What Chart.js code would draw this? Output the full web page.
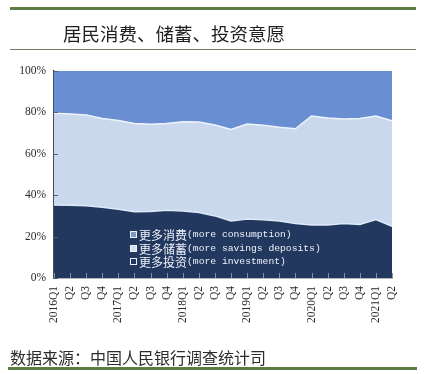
<!DOCTYPE html>
<html>
<head>
<meta charset="utf-8">
<script src="https://cdn.jsdelivr.net/npm/chart.js@4/dist/chart.umd.min.js"></script>
<style>
  html, body { margin:0; padding:0; background:#fff; }
  body { width:424px; height:374px; position:relative; overflow:hidden; }
  #c { position:absolute; left:0; top:0; }
  .bar { position:absolute; background:#5d7c43; }
  .title { position:absolute; left:63px; top:20px; font-family:"Noto Sans CJK SC", sans-serif; font-size:18.5px; color:#1f1f1f; white-space:nowrap; line-height:26px; }
  .src { position:absolute; left:10px; top:346px; font-family:"Noto Sans CJK SC", sans-serif; font-size:16px; color:#2b2b2b; white-space:nowrap; line-height:22px; }
  .legend { position:absolute; left:130px; top:228px; color:#eef2fa; }
  .legend .row { height:13.5px; display:flex; align-items:center; white-space:nowrap; }
  .legend .sw { width:5px; height:5px; border:1px solid #eef2fa; margin-right:2px; }
  .legend .zh { font-family:"Noto Sans CJK SC", sans-serif; font-size:12px; line-height:13px; }
  .legend .en { font-family:"Liberation Mono", monospace; font-size:9.7px; line-height:13px; }
</style>
</head>
<body>
<canvas id="c" width="424" height="374"></canvas>
<div class="bar" style="left:10px; top:7px; width:406px; height:3px;"></div>
<div class="title">居民消费、储蓄、投资意愿</div>
<div class="bar" style="left:10px; top:49px; width:406px; height:1px; background:#6b7a60;"></div>
<div class="legend" id="legend"></div>
<div class="src">数据来源：中国人民银行调查统计司</div>
<div class="bar" style="left:8px; top:367px; width:409px; height:3px;"></div>
<script>
const categories = ["2016Q1","Q2","Q3","Q4","2017Q1","Q2","Q3","Q4","2018Q1","Q2","Q3","Q4","2019Q1","Q2","Q3","Q4","2020Q1","Q2","Q3","Q4","2021Q1","Q2"];
const investment = [35.3,35.1,34.9,34.2,33.2,32.0,32.1,32.7,32.4,31.6,30.0,27.5,28.5,28.1,27.5,26.3,25.6,25.6,26.3,25.9,28.2,25.0];
const savings    = [44.3,44.1,43.8,42.9,42.9,42.6,42.2,41.9,43.1,43.8,43.9,44.3,45.9,45.7,45.3,45.8,52.7,51.7,50.5,51.2,50.1,51.0];
const consumption= [20.4,20.8,21.3,22.9,23.9,25.4,25.7,25.4,24.5,24.6,26.1,28.2,25.6,26.2,27.2,27.9,21.7,22.7,23.2,22.9,21.7,24.0];
const yTicks = [0,20,40,60,80,100];
const legendItems = [
  {zh:"更多消费", en:"(more consumption)", sw:"#8098c2"},
  {zh:"更多储蓄", en:"(more savings deposits)", sw:"#d3deee"},
  {zh:"更多投资", en:"(more investment)", sw:"#22385f"}
];

const lg = document.getElementById('legend');
legendItems.forEach(it => {
  const r = document.createElement('div'); r.className = 'row';
  r.innerHTML = '<span class="sw" style="background:' + it.sw + '"></span><span class="zh">' + it.zh + '</span><span class="en">' + it.en + '</span>';
  lg.appendChild(r);
});

const inwardTicks = {
  id: 'inwardTicks',
  afterDraw(chart) {
    const ctx = chart.ctx, x = chart.scales.x, y = chart.scales.y, a = chart.chartArea;
    ctx.save();
    ctx.strokeStyle = '#5a5f6a';
    ctx.lineWidth = 1;
    y.ticks.forEach((t, i) => {
      const py = Math.round(y.getPixelForTick(i)) + 0.5;
      ctx.beginPath(); ctx.moveTo(a.left, py); ctx.lineTo(a.left + 4, py); ctx.stroke();
    });
    ctx.strokeStyle = '#8a8f98';
    x.ticks.forEach((t, i) => {
      const px = Math.round(x.getPixelForTick(i)) + 0.5;
      ctx.beginPath(); ctx.moveTo(px, a.bottom); ctx.lineTo(px, a.bottom - 5); ctx.stroke();
    });
    ctx.restore();
  }
};

new Chart(document.getElementById('c'), {
  type: 'line',
  data: {
    labels: categories,
    datasets: [
      { label:'更多投资', data: investment, backgroundColor:'#22385f', borderColor:'#dfe9f7', borderWidth:1.5, fill:'origin', pointRadius:0, tension:0 },
      { label:'更多储蓄', data: savings, backgroundColor:'#cad8ee', borderColor:'#eef4fc', borderWidth:1.5, fill:'-1', pointRadius:0, tension:0 },
      { label:'更多消费', data: consumption, backgroundColor:'#6a8ed2', borderColor:'rgba(0,0,0,0)', borderWidth:0, fill:'-1', pointRadius:0, tension:0 }
    ]
  },
  options: {
    responsive:false, animation:false, devicePixelRatio:1,
    layout: { padding: { left:0, right:32, top:71, bottom:0 } },
    plugins: { legend:{display:false}, tooltip:{enabled:false}, title:{display:false} },
    scales: {
      x: {
        offset:false, z:1,
        grid:{ display:true, drawOnChartArea:false, drawTicks:false },
        border:{ display:true, color:'#6b6f78', width:1.5 },
        ticks:{ autoSkip:false, minRotation:90, maxRotation:90, padding:8, color:'#2a2a2a', font:{ family:'Liberation Serif', size:11.5 } },
        afterFit: s => { s.height = 96; }
      },
      y: {
        stacked:true, min:0, max:100, z:1,
        afterBuildTicks: s => { s.ticks = yTicks.map(v => ({value:v})); },
        grid:{ display:true, drawOnChartArea:false, drawTicks:false },
        border:{ display:true, color:'#4a4f5a', width:1.5 },
        ticks:{ padding:8, color:'#2a2a2a', font:{ family:'Liberation Serif', size:11.5 }, callback: v => v + '%' },
        afterFit: s => { s.width = 54; }
      }
    }
  },
  plugins:[inwardTicks]
});
</script>
</body>
</html>
